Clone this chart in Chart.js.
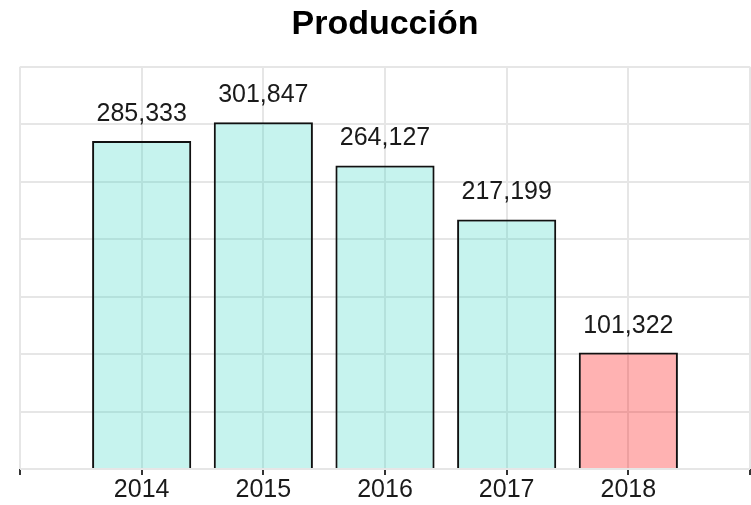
<!DOCTYPE html>
<html>
<head>
<meta charset="utf-8">
<script src="https://cdn.jsdelivr.net/npm/chart.js@4"></script>
<style>
  html, body { margin: 0; padding: 0; background: #fff; }
  #wrap { width: 751px; height: 505px; }
</style>
</head>
<body>
<div id="wrap"><canvas id="chart"></canvas></div>
<script>
const years = ['2014', '2015', '2016', '2017', '2018'];
const produccion = [285333, 301847, 264127, 217199, 101322];
const barColors = ['rgba(65,215,198,0.3)', 'rgba(65,215,198,0.3)', 'rgba(65,215,198,0.3)', 'rgba(65,215,198,0.3)', 'rgba(255,0,0,0.3)'];

// empty slot on each side, like the original plot's padding
const labels = ['2013', ...years, '2019'];
const values = [null, ...produccion, null];
const colors = ['#fff', ...barColors, '#fff'];

const fontFamily = '"Liberation Sans", Arial, sans-serif';

const valueLabels = {
  id: 'valueLabels',
  afterDatasetsDraw(chart) {
    const ctx = chart.ctx;
    const meta = chart.getDatasetMeta(0);
    ctx.save();
    ctx.font = '25px ' + fontFamily;
    ctx.fillStyle = '#1a1a1a';
    ctx.textAlign = 'center';
    ctx.textBaseline = 'alphabetic';
    meta.data.forEach((bar, i) => {
      const v = values[i];
      if (v == null) return;
      ctx.fillText(v.toLocaleString('en-US'), bar.x, bar.y - 20);
    });
    ctx.restore();
  }
};

new Chart(document.getElementById('chart'), {
  type: 'bar',
  data: {
    labels: labels,
    datasets: [{
      data: values,
      backgroundColor: colors,
      borderColor: '#111',
      borderWidth: 2,
      barPercentage: 0.815,
      categoryPercentage: 1
    }]
  },
  options: {
    responsive: true,
    maintainAspectRatio: false,
    animation: false,
    layout: { padding: { left: 20, right: 1, bottom: 0 } },
    plugins: {
      legend: { display: false },
      tooltip: { enabled: false },
      title: {
        display: true,
        text: 'Producción',
        color: '#000',
        font: { family: fontFamily, size: 34, weight: 'bold' },
        padding: { top: 4, bottom: 22 }
      }
    },
    scales: {
      x: {
        offset: false,
        // drop the few px Chart.js keeps for edge labels, so the grid reaches the side
        afterFit: function (scale) { scale.paddingLeft = 0; scale.paddingRight = 0; },
        grid: { offset: false, color: '#e6e6e6', lineWidth: 2, tickColor: '#333', tickLength: 6, tickWidth: 2 },
        border: { display: false },
        ticks: {
          color: '#1a1a1a',
          padding: 5,
          font: { family: fontFamily, size: 25, lineHeight: 0.8 },
          callback: function (v, i) { return (i === 0 || i === labels.length - 1) ? '' : labels[i]; }
        }
      },
      y: {
        min: 0,
        max: 350000,
        grid: { color: '#e6e6e6', lineWidth: 2, drawTicks: false },
        border: { display: false },
        ticks: { display: false, stepSize: 50000 }
      }
    }
  },
  plugins: [valueLabels]
});
</script>
</body>
</html>
